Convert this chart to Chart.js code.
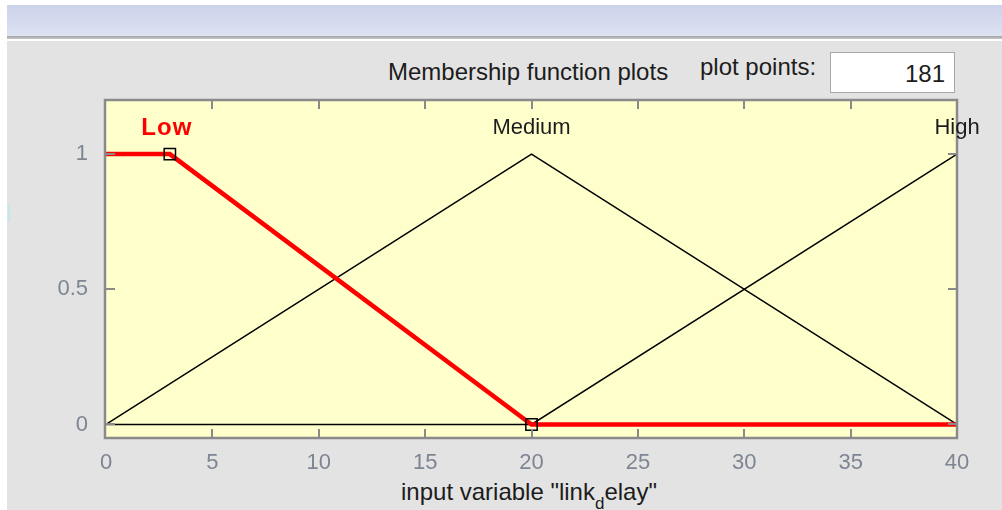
<!DOCTYPE html>
<html>
<head>
<meta charset="utf-8">
<script src="https://cdn.jsdelivr.net/npm/chart.js@4"></script>
<style>
  body { margin: 0; width: 1002px; height: 510px; overflow: hidden; position: relative; background: #e3e3e3; font-family: "Liberation Sans", Arial, sans-serif; }
  .abs { position: absolute; }
  #leftStrip { left: 0; top: 0; width: 7px; height: 510px; background: #fff; }
  #topWhite { left: 0; top: 0; width: 1002px; height: 41px; background: #fff; }
  #band { left: 7px; top: 5px; width: 995px; height: 31px; background: linear-gradient(#cbd2ea, #dce2f2); }
  #bandLine { left: 7px; top: 36px; width: 995px; height: 3px; background: linear-gradient(#a4a4a4, #c4c4c4); }
  #mark { left: 8px; top: 205px; width: 2px; height: 17px; background: #c2e8ec; }
  .txt { font-size: 24px; color: #1c1c1c; line-height: 28px; white-space: nowrap; }
  #title { left: 388px; top: 58px; }
  #ppLabel { left: 700px; top: 53px; }
  #ppBox { left: 830px; top: 52px; width: 125px; height: 41px; box-sizing: border-box; border: 1px solid #a8a8a8; background: #fff; text-align: right; padding-right: 9px; line-height: 41px; }
  #xlabel { left: 401px; top: 478px; }
  #xlabel span { font-size: 17px; position: relative; top: 9px; }
  canvas { position: absolute; left: 0; top: 0; }
</style>
</head>
<body>
<div class="abs" id="topWhite"></div>
<div class="abs" id="band"></div>
<div class="abs" id="bandLine"></div>
<div class="abs" id="leftStrip"></div>
<div class="abs" id="mark"></div>
<div class="abs txt" id="title">Membership function plots</div>
<div class="abs txt" id="ppLabel">plot points:</div>
<div class="abs txt" id="ppBox">181</div>
<div class="abs txt" id="xlabel">input variable "link<span>d</span>elay"</div>
<canvas id="mf" width="1002" height="510"></canvas>
<script>
// membership functions of input variable "link_delay"
const mfNames = ['Low', 'Medium', 'High'];
const mfPeakX = [3, 20, 40];
const lowX = [0, 3, 20, 40];
const lowY = [1, 1, 0, 0];
const mediumX = [0, 20, 40];
const mediumY = [0, 1, 0];
const highX = [0, 20, 40];
const highY = [0, 0, 1];
// selected MF parameter handles
const handleX = [3, 20];
const handleY = [1, 0];
const xTicks = [0, 5, 10, 15, 20, 25, 30, 35, 40];
const yTicks = [0, 0.5, 1];

const pts = (xs, ys) => xs.map((x, i) => ({ x: x, y: ys[i] }));

const plotDecor = {
    id: 'plotDecor',
    beforeDatasetsDraw(chart) {
        const a = chart.chartArea;
        const ctx = chart.ctx;
        ctx.save();
        ctx.fillStyle = '#ffffcc';
        ctx.fillRect(a.left, a.top, a.right - a.left, a.bottom - a.top);
        ctx.restore();
    },
    afterDatasetsDraw(chart) {
        const a = chart.chartArea;
        const ctx = chart.ctx;
        const xs = chart.scales.x, ys = chart.scales.y;
        ctx.save();
        ctx.strokeStyle = '#8a8a8a';
        ctx.lineWidth = 2;
        ctx.beginPath();
        xTicks.forEach(v => {
            const px = Math.round(xs.getPixelForValue(v));
            if (v === xs.min || v === xs.max) return;
            ctx.moveTo(px, a.bottom); ctx.lineTo(px, a.bottom - 9);
            ctx.moveTo(px, a.top); ctx.lineTo(px, a.top + 9);
        });
        yTicks.forEach(v => {
            const py = Math.round(ys.getPixelForValue(v));
            ctx.moveTo(a.left, py); ctx.lineTo(a.left + 9, py);
            ctx.moveTo(a.right, py); ctx.lineTo(a.right - 9, py);
        });
        ctx.stroke();
        ctx.lineWidth = 2.5;
        ctx.strokeRect(a.left - 1, a.top, a.right - a.left + 1, a.bottom - a.top);

        // MF names above each peak
        ctx.textAlign = 'center';
        ctx.textBaseline = 'middle';
        mfNames.forEach((name, i) => {
            const px = xs.getPixelForValue(mfPeakX[i]);
            const py = ys.getPixelForValue(1.1) + 1;
            if (i === 0) {
                ctx.fillStyle = '#ff0000';
                ctx.font = 'bold 24px "Liberation Sans", Arial';
                ctx.letterSpacing = '1px';
            } else {
                ctx.fillStyle = '#1c1c1c';
                ctx.font = '22px "Liberation Sans", Arial';
                ctx.letterSpacing = '0px';
            }
            ctx.fillText(name, i === 0 ? px - 3 : px, py);
        });
        ctx.restore();
    }
};

new Chart(document.getElementById('mf'), {
    type: 'line',
    data: {
        datasets: [
            {
                data: pts(handleX, handleY),
                showLine: false,
                pointStyle: 'rect',
                pointRadius: 8,
                pointBorderWidth: 1.5,
                pointBorderColor: '#000',
                pointBackgroundColor: 'rgba(0,0,0,0)',
                order: 0
            },
            {
                label: mfNames[0],
                data: pts(lowX, lowY),
                borderColor: '#ff0000',
                borderWidth: 4.5,
                pointRadius: 0,
                order: 1
            },
            {
                label: mfNames[1],
                data: pts(mediumX, mediumY),
                borderColor: '#000',
                borderWidth: 1.5,
                pointRadius: 0,
                order: 2
            },
            {
                label: mfNames[2],
                data: pts(highX, highY),
                borderColor: '#000',
                borderWidth: 1.5,
                pointRadius: 0,
                order: 3
            }
        ]
    },
    options: {
        responsive: false,
        animation: false,
        layout: { padding: { top: 100, right: 45, left: 0, bottom: 0 } },
        plugins: { legend: { display: false }, tooltip: { enabled: false } },
        scales: {
            x: {
                type: 'linear',
                min: 0,
                max: 40,
                afterBuildTicks: s => { s.ticks = xTicks.map(v => ({ value: v })); },
                afterFit: s => { s.height = 72; },
                grid: { display: false },
                border: { display: false },
                ticks: { color: '#7e8592', padding: 4, callback: v => String(v), font: { size: 22, family: '"Liberation Sans", Arial' } }
            },
            y: {
                type: 'linear',
                min: -0.05,
                max: 1.2,
                afterBuildTicks: s => { s.ticks = yTicks.map(v => ({ value: v })); },
                afterFit: s => { s.width = 106; },
                grid: { display: false },
                border: { display: false },
                ticks: { color: '#7e8592', padding: 10, callback: v => String(v), font: { size: 22, family: '"Liberation Sans", Arial' } }
            }
        }
    },
    plugins: [plotDecor]
});
</script>
</body>
</html>
